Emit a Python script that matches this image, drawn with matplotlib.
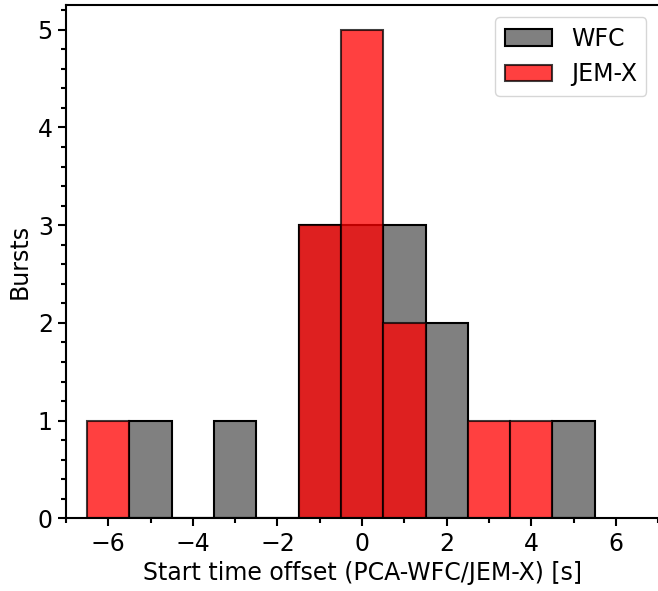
import numpy as np
import matplotlib
matplotlib.use("Agg")
import matplotlib.pyplot as plt
from matplotlib.ticker import MultipleLocator

# burst start-time offsets (s), binned to whole seconds
wfc_offsets = [-5, -3, -1, -1, -1, 0, 0, 0, 1, 1, 1, 2, 2, 5]
jemx_offsets = [-6, -1, -1, -1, 0, 0, 0, 0, 0, 1, 1, 3, 4]
bin_edges = np.arange(-6.5, 6.5, 1.0)

fig = plt.figure(figsize=(6.58, 5.91), dpi=100)
ax = fig.add_axes([0.1003, 0.123, 0.9, 0.868])

ax.hist(wfc_offsets, bins=bin_edges, color='gray', edgecolor='black',
        linewidth=1.5, label='WFC')
ax.hist(jemx_offsets, bins=bin_edges, color='red', edgecolor='black',
        linewidth=1.5, alpha=0.75, label='JEM-X')

ax.set_xlim(-7, 7)
ax.set_ylim(0, 5.25)
ax.xaxis.set_major_locator(MultipleLocator(2))
ax.xaxis.set_minor_locator(MultipleLocator(1))
ax.yaxis.set_major_locator(MultipleLocator(1))
ax.yaxis.set_minor_locator(MultipleLocator(0.2))
ax.tick_params(which='major', length=6, width=1.5, labelsize=17)
ax.tick_params(which='minor', length=3.5, width=1.5)
for s in ax.spines.values():
    s.set_linewidth(1.5)
ax.spines['right'].set_visible(False)

ax.set_xlabel('Start time offset (PCA-WFC/JEM-X) [s]', fontsize=17)
ax.set_ylabel('Bursts', fontsize=17)
ax.legend(loc='upper right', fontsize=17)

fig.savefig('out.png', dpi=100)
